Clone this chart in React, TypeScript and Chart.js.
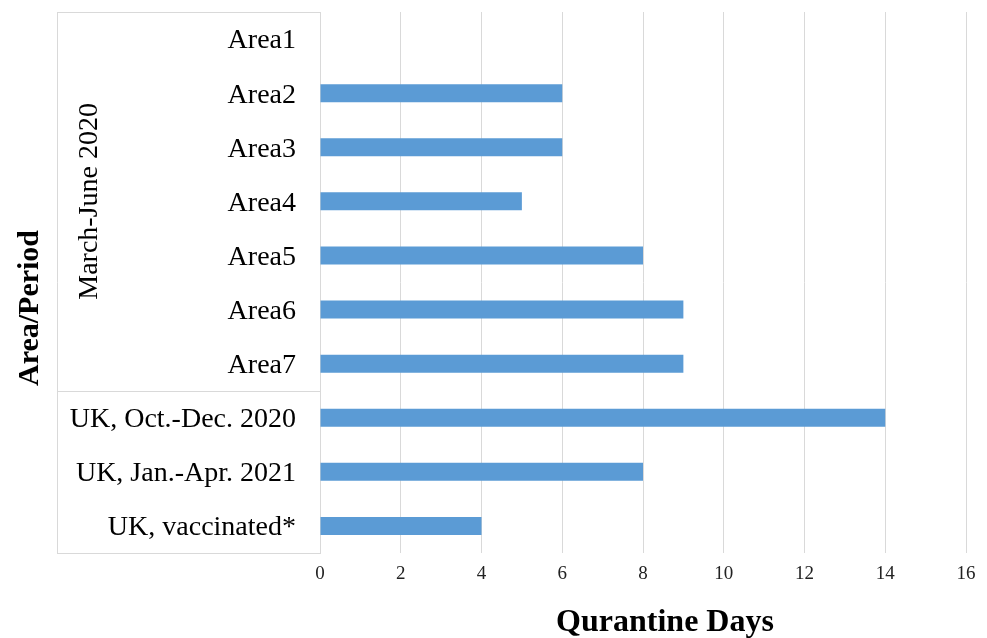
import React, { useEffect, useRef } from "react";
import { Chart, registerables } from "chart.js";

Chart.register(...registerables);

const categories = [
  "Area1",
  "Area2",
  "Area3",
  "Area4",
  "Area5",
  "Area6",
  "Area7",
  "UK, Oct.-Dec. 2020",
  "UK, Jan.-Apr. 2021",
  "UK, vaccinated*",
];
const quarantineDays = [0, 6, 6, 5, 8, 9, 9, 14, 8, 4];
const xMin = 0;
const xMax = 16;
const xStep = 2;
const groupLabel = "March-June 2020";
const groupEndIndex = 6; // last category in the March-June 2020 group
const xTitle = "Qurantine Days";
const yTitle = "Area/Period";

const SERIF = "'Liberation Serif', 'Times New Roman', serif";
const LINE = "#d9d9d9";

const tablePlugin = {
  id: "tablePlugin",
  afterDraw(chart: any) {
    const { ctx, chartArea, scales } = chart;
    const y = scales.y;
    const left = 57;
    const top = chartArea.top;
    const bottom = chartArea.bottom;
    const sep = (y.getPixelForValue(groupEndIndex) + y.getPixelForValue(groupEndIndex + 1)) / 2;
    ctx.save();
    ctx.strokeStyle = LINE;
    ctx.lineWidth = 1;
    ctx.beginPath();
    ctx.moveTo(left + 0.5, top);
    ctx.lineTo(left + 0.5, bottom + 0.5);
    ctx.moveTo(left, top + 0.5);
    ctx.lineTo(chartArea.left, top + 0.5);
    ctx.moveTo(left, Math.round(sep) + 0.5);
    ctx.lineTo(chartArea.left, Math.round(sep) + 0.5);
    ctx.moveTo(left, bottom + 0.5);
    ctx.lineTo(chartArea.left, bottom + 0.5);
    ctx.stroke();

    ctx.fillStyle = "#000";
    ctx.textAlign = "center";
    ctx.textBaseline = "middle";
    ctx.font = `28px ${SERIF}`;
    ctx.save();
    ctx.translate(90, (top + sep) / 2);
    ctx.rotate(-Math.PI / 2);
    ctx.fillText(groupLabel, 0, 0);
    ctx.restore();

    ctx.font = `bold 30px ${SERIF}`;
    ctx.save();
    ctx.translate(30, 308);
    ctx.rotate(-Math.PI / 2);
    ctx.fillText(yTitle, 0, 0);
    ctx.restore();

    ctx.font = `bold 32px ${SERIF}`;
    ctx.fillText(xTitle, 665, 623);
    ctx.restore();
  },
};

export default function App() {
  const ref = useRef<HTMLCanvasElement>(null);
  useEffect(() => {
    if (!ref.current) return;
    const chart = new Chart(ref.current, {
      type: "bar",
      data: {
        labels: categories,
        datasets: [
          {
            data: quarantineDays,
            backgroundColor: "#5B9BD5",
            borderWidth: 0,
            barPercentage: 0.333,
            categoryPercentage: 1,
          },
        ],
      },
      options: {
        indexAxis: "y",
        animation: false,
        responsive: false,
        layout: { padding: { left: 0, top: 12, right: 21, bottom: 0 } },
        plugins: { legend: { display: false }, tooltip: { enabled: false } },
        scales: {
          x: {
            min: xMin,
            max: xMax,
            ticks: {
              stepSize: xStep,
              color: "#222",
              font: { family: SERIF, size: 19 },
              padding: 10,
            },
            grid: { color: LINE, lineWidth: 1, drawTicks: false },
            border: { display: false },
            afterFit: (s: any) => {
              s.height = 85;
              s.paddingLeft = 0;
              s.paddingRight = 0;
            },
          },
          y: {
            ticks: {
              color: "#000",
              font: { family: SERIF, size: 28 },
              padding: 24,
              labelOffset: 2,
            },
            grid: { display: false, drawTicks: false },
            border: { display: true, color: LINE, width: 1 },
            afterFit: (s: any) => {
              s.width = 320;
              s.paddingTop = 0;
              s.paddingBottom = 0;
            },
          },
        },
      },
      plugins: [tablePlugin],
    });
    return () => chart.destroy();
  }, []);
  return (
    <div style={{ position: "absolute", left: 0, top: 0, width: 987, height: 638, background: "#fff" }}>
      <canvas ref={ref} width={987} height={638} style={{ width: 987, height: 638 }} />
    </div>
  );
}
